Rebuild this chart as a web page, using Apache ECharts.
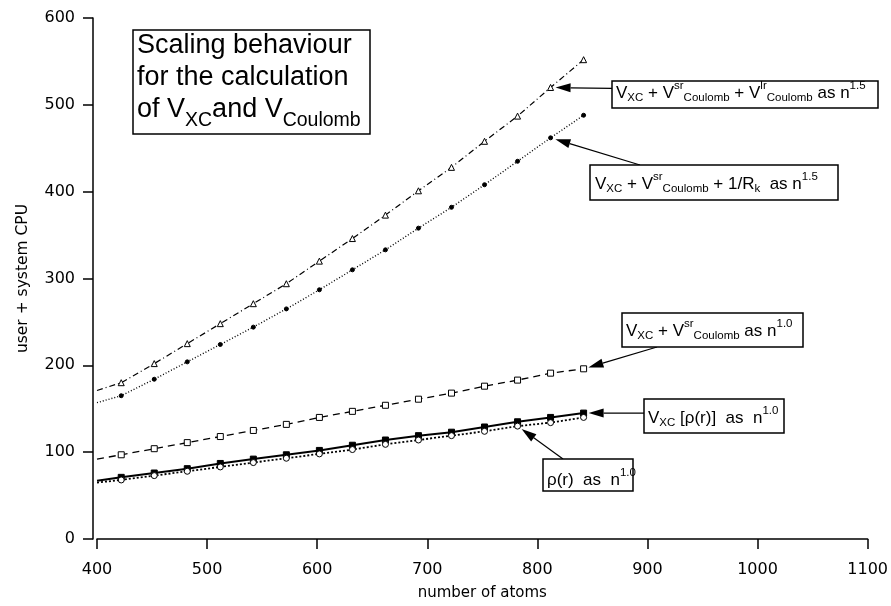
<!DOCTYPE html>
<html>
<head>
<meta charset="utf-8">
<script src="https://cdn.jsdelivr.net/npm/echarts@6/dist/echarts.min.js"></script>
<style>
html, body { margin: 0; padding: 0; background: #fff; }
#main { width: 891px; height: 606px; }
</style>
</head>
<body>
<div id="main"></div>
<script>
// number of atoms of every measured point
var atoms = [422, 452, 482, 512, 542, 572, 602, 632, 662, 692, 722, 752, 782, 812, 842];
// user + system CPU
var vxcSrLr = [180, 202, 225, 248, 271, 294, 320, 346, 373, 401, 428, 458, 487, 520, 552]; // triangles
var vxcSrRk = [165, 184, 204, 224, 244, 265, 287, 310, 333, 358, 382, 408, 435, 462, 488]; // filled dots
var vxcSr   = [97, 104, 111, 118, 125, 132, 140, 147, 154, 161, 168, 176, 183, 191, 196];  // open squares
var vxcRho  = [71, 76, 81, 87, 92, 97, 102, 108, 114, 119, 123, 129, 135, 140, 145];      // filled squares
var rho     = [68, 73, 78, 83, 88, 93, 98, 103, 109, 114, 119, 124, 130, 134, 140];       // open circles
// where each fitted curve starts at the left edge (400 atoms)
var fitStartX = 400;
var fitStart = [171, 157, 92, 67, 65];

var FONT = 'Liberation Sans';
var AXFONT = 'DejaVu Sans';

var chart = echarts.init(document.getElementById('main'));

function makeSeries(name, vals, start, symbol, filled, size, lineType, width) {
  var data = [{ value: [fitStartX, start], symbol: 'none' }];
  for (var i = 0; i < atoms.length; i++) data.push([atoms[i], vals[i]]);
  return {
    name: name,
    type: 'line',
    data: data,
    symbol: symbol,
    symbolSize: size,
    showAllSymbol: true,
    itemStyle: { color: filled ? '#000' : '#fff', borderColor: '#000', borderWidth: 1 },
    lineStyle: { color: '#000', width: width, type: lineType },
    emphasis: { disabled: true },
    animation: false
  };
}

var option = {
  backgroundColor: '#fff',
  animation: false,
  grid: { left: 97, right: 23, top: 18, bottom: 63.5 },
  xAxis: {
    type: 'value', min: 400, max: 1100, interval: 100, offset: 3,
    name: 'number of atoms', nameLocation: 'middle', nameGap: 44,
    nameTextStyle: { fontFamily: AXFONT, fontSize: 15, color: '#000' },
    axisLine: { lineStyle: { color: '#000', width: 1.5 } },
    axisTick: { inside: false, length: 10, lineStyle: { color: '#000', width: 1.5 } },
    axisLabel: { fontFamily: AXFONT, fontSize: 16, color: '#000', margin: 20,
                 formatter: function (v) { return String(v); } },
    splitLine: { show: false }
  },
  yAxis: {
    type: 'value', min: 0, max: 600, interval: 100, offset: 4,
    name: 'user + system CPU', nameLocation: 'middle', nameGap: 62,
    nameTextStyle: { fontFamily: AXFONT, fontSize: 15.5, color: '#000' },
    axisLine: { show: true, lineStyle: { color: '#000', width: 1.5 } },
    axisTick: { show: true, inside: false, length: 10, lineStyle: { color: '#000', width: 1.5 } },
    axisLabel: { fontFamily: AXFONT, fontSize: 16, color: '#000', margin: 18 },
    splitLine: { show: false }
  },
  series: [
    makeSeries('lr', vxcSrLr, fitStart[0], 'triangle', false, 6, [6, 3, 1, 3], 1.2),
    makeSeries('rk', vxcSrRk, fitStart[1], 'circle', true, 4, [1, 2], 1.4),
    makeSeries('sr', vxcSr, fitStart[2], 'rect', false, 6, [7, 5], 1.3),
    makeSeries('vxc', vxcRho, fitStart[3], 'rect', true, 6, 'solid', 2),
    makeSeries('rho', rho, fitStart[4], 'circle', false, 6, [2, 2], 1.8)
  ]
};
chart.setOption(option);

// ---- annotation boxes and arrows ----
var rich = {
  b: { fontFamily: FONT, fontSize: 11.5, lineHeight: 20, padding: [10, 0, 0, 0], color: '#000' },
  p: { fontFamily: FONT, fontSize: 11.5, lineHeight: 20, padding: [0, 0, 15, 0], color: '#000' },
  ts: { fontFamily: FONT, fontSize: 19.5, lineHeight: 31.7, padding: [23, 0, 0, 0], color: '#000' }
};

function box(x, y, w, h) {
  return { type: 'rect', silent: true, z: 100, shape: { x: x, y: y, width: w, height: h },
           style: { fill: '#fff', stroke: '#000', lineWidth: 1.5 } };
}
function label(x, yMid, text) {
  return { type: 'text', silent: true, z: 101, x: x, y: yMid,
           style: { text: text, fontFamily: FONT, fontSize: 17, fill: '#000', rich: rich,
                    align: 'left', verticalAlign: 'middle' } };
}
function arrow(sx, sy, pt) {
  var dx = sx - pt[0], dy = sy - pt[1];
  var len = Math.sqrt(dx * dx + dy * dy);
  var ux = dx / len, uy = dy / len;
  var tx = pt[0] + ux * 5, ty = pt[1] + uy * 5;
  var hl = 15, hw = 4.5;
  var bx = tx + ux * hl, by = ty + uy * hl;
  return [
    { type: 'line', silent: true, z: 99, shape: { x1: sx, y1: sy, x2: bx, y2: by },
      style: { stroke: '#000', lineWidth: 1.2 } },
    { type: 'polygon', silent: true, z: 99,
      shape: { points: [[tx, ty], [bx - uy * hw, by + ux * hw], [bx + uy * hw, by - ux * hw]] },
      style: { fill: '#000' } }
  ];
}
function px(x, y) { return chart.convertToPixel({ gridIndex: 0 }, [x, y]); }

var g = [];
// title box
g.push(box(133, 30, 237, 104));
g.push({ type: 'text', silent: true, z: 101, x: 137, y: 30,
  style: { text: 'Scaling behaviour\nfor the calculation\nof V{ts|XC}and V{ts|Coulomb}',
           fontFamily: FONT, fontSize: 27, lineHeight: 31.7, fill: '#000', rich: rich,
           align: 'left', verticalAlign: 'top' } });

var p1 = px(atoms[13], vxcSrLr[13]);
g = g.concat(arrow(612, p1[1] + 1, p1));
g.push(box(612, 81, 266, 27));
g.push(label(616, 93, 'V{b|XC} + V{p|sr}{b|Coulomb} + V{p|lr}{b|Coulomb} as n{p|1.5}'));

g = g.concat(arrow(640, 165, px(atoms[13], vxcSrRk[13])));
g.push(box(590, 165, 248, 35));
g.push(label(595, 184, 'V{b|XC} + V{p|sr}{b|Coulomb} + 1/R{b|k}  as n{p|1.5}'));

g = g.concat(arrow(657, 347, px(atoms[14], vxcSr[14])));
g.push(box(622, 313, 181, 34));
g.push(label(626, 331, 'V{b|XC} + V{p|sr}{b|Coulomb} as n{p|1.0}'));

var p4 = px(atoms[14], vxcRho[14]);
g = g.concat(arrow(644, p4[1], p4));
g.push(box(644, 399, 140, 34));
g.push(label(648, 418, 'V{b|XC} [ρ(r)]  as  n{p|1.0}'));

g = g.concat(arrow(563, 459, px(atoms[12], rho[12])));
g.push(box(543, 459, 90, 32));
g.push(label(547, 480, 'ρ(r)  as  n{p|1.0}'));

chart.setOption({ graphic: g });
</script>
</body>
</html>
